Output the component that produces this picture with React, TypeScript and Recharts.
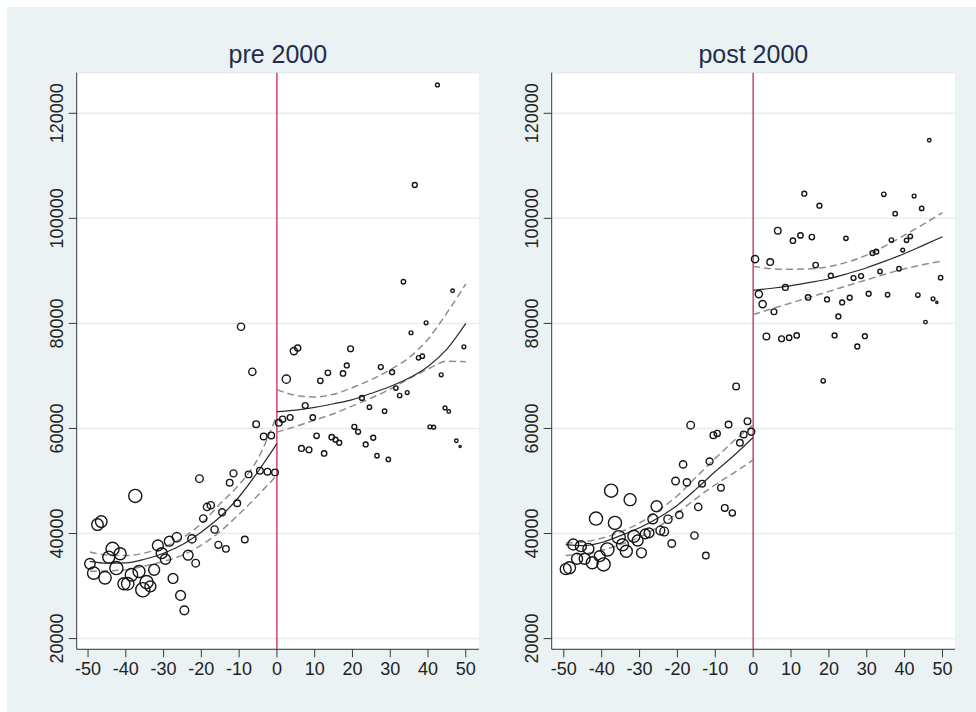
import React from 'react';
import {
  ComposedChart,
  Scatter,
  Line,
  XAxis,
  YAxis,
  ZAxis,
  CartesianGrid,
  ReferenceLine,
} from 'recharts';

// ---- data ---------------------------------------------------------------
// bin midpoints (distance to cutoff)
const bins = [
  -49.5, -48.5, -47.5, -46.5, -45.5, -44.5, -43.5, -42.5, -41.5, -40.5,
  -39.5, -38.5, -37.5, -36.5, -35.5, -34.5, -33.5, -32.5, -31.5, -30.5,
  -29.5, -28.5, -27.5, -26.5, -25.5, -24.5, -23.5, -22.5, -21.5, -20.5,
  -19.5, -18.5, -17.5, -16.5, -15.5, -14.5, -13.5, -12.5, -11.5, -10.5,
  -9.5, -8.5, -7.5, -6.5, -5.5, -4.5, -3.5, -2.5, -1.5, -0.5,
  0.5, 1.5, 2.5, 3.5, 4.5, 5.5, 6.5, 7.5, 8.5, 9.5,
  10.5, 11.5, 12.5, 13.5, 14.5, 15.5, 16.5, 17.5, 18.5, 19.5,
  20.5, 21.5, 22.5, 23.5, 24.5, 25.5, 26.5, 27.5, 28.5, 29.5,
  30.5, 31.5, 32.5, 33.5, 34.5, 35.5, 36.5, 37.5, 38.5, 39.5,
  40.5, 41.5, 42.5, 43.5, 44.5, 45.5, 46.5, 47.5, 48.5, 49.5,
];

const preValues = [
  34240, 32470, 41700, 42270, 31580, 35500, 37080, 33420, 36140, 30440,
  30440, 32150, 47150, 32780, 29300, 30750, 29930, 33100, 37720, 36260,
  35120, 38540, 31450, 39300, 28220, 25380, 35880, 38980, 34360, 50440,
  42850, 45060, 45380, 40760, 37840, 44050, 37080, 49680, 51450, 45760,
  79360, 38860, 51260, 70790, 60820, 51960, 58480, 51770, 58670, 51640,
  61080, 61770, 69390, 62090, 74730, 75300, 56200, 64370, 55950, 62090,
  58610, 69070, 55250, 70600, 58350, 57850, 57280, 70470, 72000, 75170,
  60320, 59370, 65820, 56960, 64050, 58230, 54810, 71680, 63290, 54110,
  70720, 67700, 66270, 87930, 66840, 78220, 106350, 73450, 73770, 80120,
  60320, 60250, 125400, 70220, 63920, 63230, 86220, 57660, 56580, 75550,
];

const preWeights = [
  23, 32, 28, 28, 32, 30, 36, 36, 30, 30,
  32, 32, 36, 30, 42, 36, 25, 25, 25, 25,
  22, 20, 20, 18, 20, 16, 20, 14, 12, 12,
  11, 11, 11, 11, 10, 10, 9, 9, 10, 9,
  11, 9, 9, 11, 9, 9, 9, 9, 9, 9,
  9, 8, 14, 7, 11, 8, 7, 7, 7, 6,
  6, 6, 6, 6, 6, 5, 5, 6, 5, 7,
  5, 5, 5, 5, 4, 5, 4, 5, 4, 4,
  5, 4, 4, 4, 3, 3, 5, 4, 4, 3,
  3, 3, 3, 3, 3, 2.6, 2.6, 2.6, 1, 3,
];

const postValues = [
  33220, 33480, 37910, 35190, 37590, 35190, 37080, 34430, 42850, 35690,
  34110, 36960, 48160, 42020, 39300, 37850, 36640, 46450, 39490, 38670,
  36330, 39930, 40120, 42780, 45190, 40570, 40380, 42720, 38100, 50000,
  43540, 53160, 49750, 60630, 39620, 45060, 49490, 35820, 53730, 58730,
  59050, 48730, 44870, 60760, 43920, 68000, 57280, 58860, 61390, 59370,
  92250, 85580, 83680, 77520, 91680, 82220, 97650, 77070, 86850, 77270,
  95740, 77710, 96760, 104700, 84950, 96440, 91110, 102410, 69070, 84570,
  89080, 77710, 81330, 84000, 96190, 84890, 88630, 75610, 89010, 77580,
  85650, 93390, 93650, 89900, 104570, 85460, 95870, 100890, 90410, 93960,
  95810, 96570, 104250, 85390, 101900, 80250, 114860, 84690, 84000, 88700,
];

const postWeights = [
  25, 30, 25, 25, 25, 25, 25, 30, 36, 25,
  36, 36, 36, 36, 36, 30, 30, 30, 30, 25,
  20, 20, 20, 20, 25, 16, 16, 14, 12, 12,
  11, 11, 11, 12, 11, 11, 9, 9, 10, 9,
  8, 9, 9, 9, 8, 9, 9, 9, 9, 10,
  11, 11, 11, 9, 9, 7, 9, 7, 7, 6,
  6, 6, 6, 5, 6, 6, 6, 5, 4, 5,
  5, 5, 5, 5, 4, 5, 5, 5, 5, 5,
  5, 5, 5, 4, 4, 4, 4, 4, 4, 3,
  4, 4, 3, 4, 4, 2.6, 2.6, 3, 1, 4,
];

// fitted curves with confidence bands, read at these x positions
const gridLeft = [-49.5, -45, -40, -35, -30, -25, -20, -15, -10, -5, 0];
const gridRight = [0, 5, 10, 15, 20, 25, 30, 35, 40, 45, 50];

const preFitLeft = [34700, 34350, 34400, 35100, 36250, 37900, 40300, 43200, 47000, 51800, 57100];
const preHighLeft = [36500, 35900, 35800, 36300, 37400, 39200, 41900, 45700, 49300, 54300, 62500];
const preLowLeft = [32800, 32900, 33100, 33800, 34700, 35900, 37800, 40400, 43700, 47300, 51100];
const preFitRight = [63200, 63500, 64000, 64700, 65500, 66700, 68000, 69600, 71800, 75100, 80000];
const preHighRight = [67400, 66300, 66000, 66500, 67800, 69300, 71200, 73500, 77000, 82000, 87500];
const preLowRight = [59300, 60400, 61600, 62800, 64300, 65800, 67500, 69500, 71300, 72800, 72700];

const postFitLeft = [37900, 37700, 38300, 39600, 41100, 43000, 45400, 48500, 51800, 54900, 58300];
const postHighLeft = [38200, 38400, 39100, 40300, 42000, 44400, 47200, 50800, 54300, 57700, 60700];
const postLowLeft = [35800, 36100, 36800, 37900, 39300, 41300, 43900, 46700, 49300, 51600, 54000];
const postFitRight = [86300, 86700, 87200, 87800, 88500, 89500, 90600, 91900, 93300, 94900, 96500];
const postHighRight = [90900, 90400, 90300, 90400, 90800, 91700, 93000, 94800, 96800, 98900, 101100];
const postLowRight = [81700, 82800, 83900, 85000, 86100, 87200, 88300, 89400, 90400, 91200, 91900];

const xTicks = [-50, -40, -30, -20, -10, 0, 10, 20, 30, 40, 50];
const yTicks = [20000, 40000, 60000, 80000, 100000, 120000];
const titles = ['pre 2000', 'post 2000'];

// ---- helpers ------------------------------------------------------------
const FONT = '"Liberation Sans", Arial, Helvetica, sans-serif';
const BG = '#EAF2F3';

const zip = (xs: number[], ys: number[]) => xs.map((x, i) => ({ x, y: ys[i] }));
const points = (ys: number[], ws: number[]) => bins.map((x, i) => ({ x, y: ys[i], w: ws[i] }));

const Ring = (props: any) => {
  const { cx, cy, width } = props;
  if (cx == null || cy == null) return null;
  const r = Math.max((width || 2) / 2, 1);
  return <circle cx={cx} cy={cy} r={r} fill="none" stroke="#161616" strokeWidth={1.4} />;
};

const YTick = (props: any) => {
  const { x, y, payload } = props;
  return (
    <text
      transform={`translate(${x - 5.3},${y}) rotate(-90)`}
      textAnchor="middle"
      fontSize={18}
      fill="#222"
      fontFamily={FONT}
    >
      {payload.value}
    </text>
  );
};

type PanelProps = {
  title: string;
  pts: { x: number; y: number; w: number }[];
  fits: { x: number; y: number }[][]; // [fitL, hiL, loL, fitR, hiR, loR]
  xDomain: [number, number];
  left: number;
  margin: { top: number; right: number; bottom: number; left: number };
};

const Panel = ({ title, pts, fits, xDomain, left, margin }: PanelProps) => {
  const W = 488;
  const H = 712;
  const plotLeft = margin.left + 60;
  const plotRight = W - margin.right;
  const center = (plotLeft + plotRight) / 2;
  const solid = { stroke: '#2b2b2b', strokeWidth: 1.2 };
  const dashed = { stroke: '#8e8e8e', strokeWidth: 1.5, strokeDasharray: '7 4' };
  return (
    <div style={{ position: 'absolute', left, top: 0, width: W, height: H }}>
      <div
        style={{
          position: 'absolute',
          left: center - 150,
          width: 300,
          top: 42,
          textAlign: 'center',
          fontFamily: FONT,
          fontSize: 25,
          lineHeight: '25px',
          color: '#1f2d4d',
        }}
      >
        {title}
      </div>
      <ComposedChart width={W} height={H} margin={margin} style={{ fontFamily: FONT }}>
        <CartesianGrid vertical={false} stroke="#E3EDEF" strokeWidth={1.5} fill="#ffffff" />
        <XAxis
          type="number"
          dataKey="x"
          domain={xDomain}
          ticks={xTicks}
          interval={0}
          height={40}
          tickSize={8}
          tickMargin={5}
          stroke="#3a3a3a"
          tick={{ fontSize: 18, fill: '#222', fontFamily: FONT }}
          allowDataOverflow
        />
        <YAxis
          type="number"
          dataKey="y"
          domain={[17960, 127730]}
          ticks={yTicks}
          interval={0}
          width={60}
          tickSize={8}
          tickMargin={0}
          stroke="#3a3a3a"
          tick={<YTick />}
          allowDataOverflow
        />
        <ZAxis type="number" dataKey="w" domain={[0, 50]} range={[0, 60 * Math.PI]} />
        <ReferenceLine x={0} stroke="#C8284C" strokeWidth={1.3} />
        <Scatter data={pts} shape={<Ring />} isAnimationActive={false} />
        <Line data={fits[1]} dataKey="y" type="monotone" dot={false} activeDot={false} isAnimationActive={false} {...dashed} />
        <Line data={fits[2]} dataKey="y" type="monotone" dot={false} activeDot={false} isAnimationActive={false} {...dashed} />
        <Line data={fits[0]} dataKey="y" type="monotone" dot={false} activeDot={false} isAnimationActive={false} {...solid} />
        <Line data={fits[4]} dataKey="y" type="monotone" dot={false} activeDot={false} isAnimationActive={false} {...dashed} />
        <Line data={fits[5]} dataKey="y" type="monotone" dot={false} activeDot={false} isAnimationActive={false} {...dashed} />
        <Line data={fits[3]} dataKey="y" type="monotone" dot={false} activeDot={false} isAnimationActive={false} {...solid} />
      </ComposedChart>
    </div>
  );
};

export default function App() {
  const preFits = [
    zip(gridLeft, preFitLeft),
    zip(gridLeft, preHighLeft),
    zip(gridLeft, preLowLeft),
    zip(gridRight, preFitRight),
    zip(gridRight, preHighRight),
    zip(gridRight, preLowRight),
  ];
  const postFits = [
    zip(gridLeft, postFitLeft),
    zip(gridLeft, postHighLeft),
    zip(gridLeft, postLowLeft),
    zip(gridRight, postFitRight),
    zip(gridRight, postHighRight),
    zip(gridRight, postLowRight),
  ];
  return (
    <div
      style={{
        position: 'absolute',
        left: 0,
        top: 0,
        width: 976,
        height: 712,
        background: '#ffffff',
        overflow: 'hidden',
      }}
    >
      <div style={{ position: 'absolute', left: 7, top: 7, right: 0, bottom: 0, background: BG }} />
      <Panel
        title={titles[0]}
        pts={points(preValues, preWeights)}
        fits={preFits}
        xDomain={[-53, 53.5]}
        left={0}
        margin={{ top: 72.7, right: 9, bottom: 22.7, left: 16.7 }}
      />
      <Panel
        title={titles[1]}
        pts={points(postValues, postWeights)}
        fits={postFits}
        xDomain={[-53.2, 53.3]}
        left={488}
        margin={{ top: 72.7, right: 21, bottom: 22.7, left: 3.7 }}
      />
    </div>
  );
}
